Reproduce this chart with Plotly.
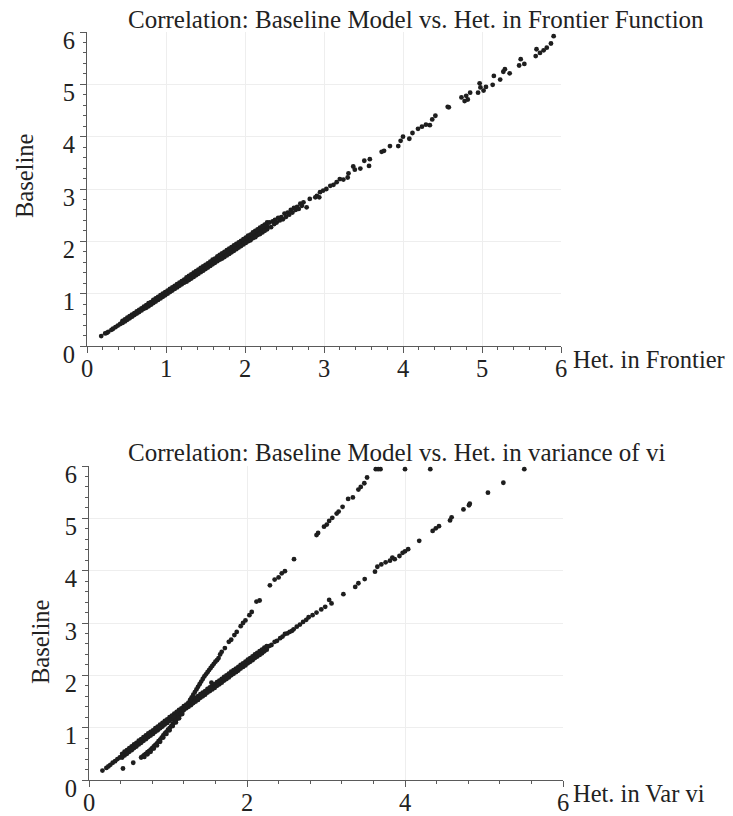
import plotly.graph_objects as go

W, H = 733, 816

# ---------------- TOP PANEL DATA (Het. in Frontier vs Baseline) ----------------
frontier_core_x = [0.18, 0.23, 0.25, 0.27, 0.31, 0.33,
                   0.36, 0.39, 0.42, 0.45, 0.48, 0.51, 0.54, 0.57, 0.60, 0.63,
                   0.66, 0.69, 0.72, 0.75, 0.78, 0.81, 0.84, 0.87, 0.90, 0.93,
                   0.96, 0.99, 1.02, 1.05, 1.08, 1.11, 1.14, 1.17, 1.20, 1.23,
                   1.26, 1.29, 1.32, 1.35, 1.38, 1.41, 1.44, 1.47, 1.50, 1.53,
                   1.56, 1.59, 1.62, 1.65, 1.68, 1.71, 1.74, 1.77, 1.80, 1.83,
                   1.86, 1.89, 1.92, 1.95, 1.98, 2.01, 2.04, 2.07, 2.10, 2.13,
                   2.16, 2.19, 2.22, 2.25, 2.28]
baseline_core_y = [0.19, 0.24, 0.25, 0.27, 0.31, 0.33,
                   0.36, 0.39, 0.42, 0.46, 0.49, 0.52, 0.55, 0.58, 0.61, 0.64,
                   0.67, 0.70, 0.73, 0.76, 0.79, 0.82, 0.85, 0.88, 0.91, 0.94,
                   0.97, 1.00, 1.03, 1.06, 1.09, 1.12, 1.15, 1.18, 1.21, 1.24,
                   1.27, 1.30, 1.33, 1.36, 1.39, 1.42, 1.45, 1.48, 1.51, 1.54,
                   1.57, 1.60, 1.63, 1.66, 1.69, 1.72, 1.75, 1.78, 1.81, 1.84,
                   1.87, 1.90, 1.93, 1.96, 1.99, 2.02, 2.05, 2.08, 2.11, 2.14,
                   2.17, 2.20, 2.23, 2.26, 2.29]

frontier_upper_x = [0.45, 0.51, 0.57, 0.63, 0.69, 0.75, 0.81, 0.87, 0.93, 0.99,
                    1.05, 1.11, 1.17, 1.23, 1.29, 1.35, 1.41, 1.47, 1.53, 1.59,
                    1.65, 1.71, 1.77, 1.83, 1.89, 1.95, 2.01, 2.07, 2.13, 2.19,
                    2.25]
baseline_upper_y = [0.48, 0.54, 0.60, 0.66, 0.72, 0.78, 0.84, 0.91, 0.97, 1.03,
                    1.09, 1.15, 1.21, 1.27, 1.34, 1.40, 1.46, 1.52, 1.58, 1.65,
                    1.71, 1.77, 1.83, 1.89, 1.95, 2.01, 2.07, 2.13, 2.20, 2.26,
                    2.32]

frontier_upper2_x = [0.48, 0.54, 0.60, 0.66, 0.72, 0.78, 0.84, 0.90, 0.96, 1.02,
                     1.08, 1.14, 1.20, 1.26, 1.32, 1.38, 1.44, 1.50, 1.56, 1.62,
                     1.68, 1.74, 1.80, 1.86, 1.92, 1.98, 2.04, 2.10, 2.16, 2.22,
                     2.28]
baseline_upper2_y = [0.51, 0.57, 0.63, 0.69, 0.75, 0.82, 0.88, 0.94, 1.00, 1.06,
                     1.12, 1.18, 1.24, 1.31, 1.37, 1.43, 1.49, 1.55, 1.61, 1.67,
                     1.74, 1.80, 1.86, 1.92, 1.98, 2.04, 2.11, 2.17, 2.23, 2.29,
                     2.36]

frontier_lower_x = [0.48, 0.54, 0.60, 0.66, 0.72, 0.78, 0.84, 0.90, 0.96, 1.02,
                    1.08, 1.14, 1.20, 1.26, 1.32, 1.38, 1.44, 1.50, 1.56, 1.62,
                    1.68, 1.74, 1.80, 1.86, 1.92, 1.98, 2.04, 2.10, 2.16, 2.22,
                    2.28]
baseline_lower_y = [0.47, 0.53, 0.59, 0.65, 0.71, 0.76, 0.82, 0.88, 0.94, 1.00,
                    1.06, 1.12, 1.18, 1.23, 1.29, 1.35, 1.41, 1.47, 1.53, 1.59,
                    1.65, 1.70, 1.76, 1.82, 1.88, 1.94, 2.00, 2.06, 2.12, 2.17,
                    2.23]

frontier_lower2_x = [0.45, 0.51, 0.57, 0.63, 0.69, 0.75, 0.81, 0.87, 0.93, 0.99,
                     1.05, 1.11, 1.17, 1.23, 1.29, 1.35, 1.41, 1.47, 1.53, 1.59,
                     1.65, 1.71, 1.77, 1.83, 1.89, 1.95, 2.01, 2.07, 2.13, 2.19,
                     2.25]
baseline_lower2_y = [0.44, 0.50, 0.56, 0.62, 0.68, 0.73, 0.79, 0.85, 0.91, 0.97,
                     1.03, 1.09, 1.15, 1.21, 1.26, 1.32, 1.38, 1.44, 1.50, 1.56,
                     1.62, 1.67, 1.73, 1.79, 1.85, 1.91, 1.97, 2.02, 2.08, 2.14,
                     2.20]

frontier_mid_x = [2.31, 2.33, 2.35, 2.37, 2.38, 2.40, 2.42, 2.44, 2.46, 2.48,
                  2.50, 2.52, 2.54, 2.56, 2.58, 2.60, 2.62, 2.64, 2.66, 2.68,
                  2.70, 2.72, 2.78]
baseline_mid_y = [2.36, 2.27, 2.38, 2.33, 2.41, 2.36, 2.45, 2.40, 2.46, 2.42,
                  2.53, 2.47, 2.55, 2.51, 2.60, 2.55, 2.64, 2.60, 2.66, 2.62,
                  2.72, 2.68, 2.65]

frontier_sparse_x = [2.74, 2.82, 2.89, 2.91, 2.94, 2.95, 2.99, 3.03, 3.08, 3.12,
                     3.16, 3.20, 3.245, 3.30, 3.31, 3.37, 3.39, 3.46, 3.51, 3.57,
                     3.58, 3.73, 3.76, 3.835, 3.94, 3.97, 4.00, 4.08, 4.12, 4.19,
                     4.24, 4.29, 4.34, 4.37, 4.41, 4.566, 4.58, 4.74, 4.78, 4.80,
                     4.82, 4.85, 4.95, 4.97, 4.98, 5.02, 5.05, 5.135, 5.15, 5.23,
                     5.27, 5.29, 5.35, 5.47, 5.49, 5.536, 5.68, 5.69, 5.734, 5.78,
                     5.82, 5.873, 5.907]
baseline_sparse_y = [2.745, 2.81, 2.84, 2.87, 2.84, 2.94, 2.97, 3.00, 3.06, 3.08,
                     3.13, 3.19, 3.18, 3.22, 3.30, 3.43, 3.37, 3.39, 3.54, 3.44,
                     3.57, 3.71, 3.73, 3.82, 3.82, 3.92, 4.00, 3.96, 4.07, 4.15,
                     4.19, 4.23, 4.22, 4.33, 4.40, 4.57, 4.56, 4.75, 4.68, 4.78,
                     4.71, 4.84, 4.84, 5.02, 4.94, 4.88, 4.95, 4.99, 5.16, 5.09,
                     5.24, 5.29, 5.21, 5.36, 5.48, 5.39, 5.54, 5.67, 5.60, 5.65,
                     5.70, 5.78, 5.92]

# ---------------- BOTTOM PANEL DATA (Het. in Var vi vs Baseline) ----------------
varvi_straight_x = [0.17, 0.22, 0.245, 0.27,
                    0.30, 0.33, 0.36, 0.39, 0.42, 0.45, 0.48, 0.51, 0.54, 0.57,
                    0.60, 0.63, 0.66, 0.69, 0.72, 0.75, 0.78, 0.81, 0.84, 0.87,
                    0.90, 0.93, 0.96, 0.99, 1.02, 1.05, 1.08, 1.11, 1.14, 1.17,
                    1.20, 1.23, 1.26, 1.29, 1.32, 1.35, 1.38, 1.41, 1.44, 1.47,
                    1.50, 1.53, 1.56, 1.59, 1.62, 1.65, 1.68, 1.71, 1.74, 1.77,
                    1.80, 1.83, 1.86, 1.89, 1.92, 1.95, 1.98, 2.01, 2.04, 2.07,
                    2.10, 2.13, 2.16, 2.19, 2.22, 2.25, 2.28]
baseline_straight_y = [0.18, 0.23, 0.26, 0.29,
                       0.33, 0.36, 0.40, 0.43, 0.47, 0.50, 0.54, 0.57, 0.61, 0.64,
                       0.68, 0.71, 0.75, 0.78, 0.82, 0.85, 0.88, 0.92, 0.95, 0.99,
                       1.02, 1.06, 1.09, 1.13, 1.16, 1.20, 1.23, 1.27, 1.30, 1.33,
                       1.37, 1.40, 1.44, 1.47, 1.50, 1.54, 1.57, 1.60, 1.63, 1.67,
                       1.70, 1.73, 1.77, 1.80, 1.83, 1.87, 1.90, 1.93, 1.96, 2.00,
                       2.03, 2.06, 2.10, 2.13, 2.16, 2.20, 2.23, 2.26, 2.29, 2.33,
                       2.36, 2.39, 2.43, 2.46, 2.49, 2.53, 2.56]

varvi_straight_up_x = [0.42, 0.48, 0.54, 0.60, 0.66, 0.72, 0.78, 0.84, 0.90, 0.96,
                       1.02, 1.08, 1.14, 1.20, 1.26, 1.32, 1.38, 1.44, 1.50, 1.56,
                       1.62, 1.68, 1.74, 1.80, 1.86, 1.92, 1.98, 2.04, 2.10, 2.16,
                       2.22]
baseline_straight_up_y = [0.50, 0.57, 0.64, 0.71, 0.78, 0.85, 0.92, 0.99, 1.06, 1.13,
                          1.20, 1.27, 1.34, 1.41, 1.47, 1.54, 1.60, 1.67, 1.74, 1.80,
                          1.87, 1.93, 2.00, 2.07, 2.13, 2.20, 2.26, 2.33, 2.40, 2.46,
                          2.53]

varvi_straight_up2_x = [0.45, 0.51, 0.57, 0.63, 0.69, 0.75, 0.81, 0.87, 0.93, 0.99,
                        1.05, 1.11, 1.17, 1.23, 1.29, 1.35, 1.41, 1.47, 1.53, 1.59,
                        1.65, 1.71, 1.77, 1.83, 1.89, 1.95, 2.01, 2.07, 2.13, 2.19,
                        2.25]
baseline_straight_up2_y = [0.54, 0.61, 0.68, 0.75, 0.82, 0.89, 0.95, 1.02, 1.09, 1.16,
                           1.23, 1.30, 1.37, 1.44, 1.50, 1.57, 1.64, 1.70, 1.77, 1.83,
                           1.90, 1.97, 2.03, 2.10, 2.16, 2.23, 2.30, 2.36, 2.43, 2.49,
                           2.56]

varvi_straight_lo_x = [0.45, 0.51, 0.57, 0.63, 0.69, 0.75, 0.81, 0.87, 0.93, 0.99,
                       1.05, 1.11, 1.17, 1.23, 1.29, 1.35, 1.41, 1.47, 1.53, 1.59,
                       1.65, 1.71, 1.77, 1.83, 1.89, 1.95, 2.01, 2.07, 2.13, 2.19,
                       2.25]
baseline_straight_lo_y = [0.47, 0.54, 0.61, 0.68, 0.75, 0.82, 0.88, 0.95, 1.02, 1.09,
                          1.16, 1.23, 1.30, 1.37, 1.43, 1.50, 1.57, 1.63, 1.70, 1.76,
                          1.83, 1.90, 1.96, 2.03, 2.09, 2.16, 2.23, 2.29, 2.36, 2.42,
                          2.49]

varvi_straight_lo2_x = [0.42, 0.48, 0.54, 0.60, 0.66, 0.72, 0.78, 0.84, 0.90, 0.96,
                        1.02, 1.08, 1.14, 1.20, 1.26, 1.32, 1.38, 1.44, 1.50, 1.56,
                        1.62, 1.68, 1.74, 1.80, 1.86, 1.92, 1.98, 2.04, 2.10, 2.16,
                        2.22]
baseline_straight_lo2_y = [0.43, 0.50, 0.57, 0.64, 0.71, 0.78, 0.85, 0.92, 0.99, 1.06,
                           1.13, 1.20, 1.27, 1.34, 1.40, 1.47, 1.53, 1.60, 1.67, 1.73,
                           1.80, 1.86, 1.93, 2.00, 2.06, 2.13, 2.19, 2.26, 2.33, 2.39,
                           2.46]

varvi_straight_sparse_x = [2.31, 2.35, 2.38, 2.42, 2.45, 2.48, 2.51, 2.54, 2.57, 2.59,
                           2.63, 2.67, 2.71, 2.75, 2.78, 2.83, 2.88, 2.94, 2.99, 3.04,
                           3.07, 3.22, 3.37, 3.41, 3.49, 3.62, 3.65, 3.70, 3.755, 3.81,
                           3.84, 3.87, 3.93, 3.97, 4.00, 4.04, 4.18, 4.35, 4.39, 4.43,
                           4.57, 4.59, 4.74, 4.81, 4.82, 5.05, 5.245, 5.51, 1.55]
baseline_straight_sparse_y = [2.58, 2.64, 2.66, 2.71, 2.74, 2.79, 2.80, 2.83, 2.85, 2.88,
                              2.93, 2.97, 3.02, 3.06, 3.11, 3.15, 3.20, 3.26, 3.31, 3.44,
                              3.375, 3.55, 3.69, 3.76, 3.84, 3.98, 4.075, 4.12, 4.16, 4.19,
                              4.25, 4.22, 4.28, 4.34, 4.37, 4.41, 4.57, 4.76, 4.81, 4.85,
                              4.96, 5.02, 5.17, 5.25, 5.28, 5.49, 5.68, 5.94, 1.86]

varvi_curved_x = [0.43, 0.56,
                  0.66, 0.68, 0.70, 0.72, 0.74, 0.76, 0.78, 0.80, 0.82, 0.84,
                  0.86, 0.88, 0.90, 0.92, 0.94, 0.96, 0.98, 1.00, 1.02, 1.04,
                  1.06, 1.08, 1.10, 1.12, 1.14, 1.16, 1.18, 1.20, 1.22, 1.24,
                  1.26, 1.28, 1.30, 1.32, 1.34, 1.36, 1.38, 1.40, 1.42, 1.44,
                  1.46, 1.48, 1.50, 1.52, 1.54, 1.56, 1.58, 1.60]
baseline_curved_y = [0.22, 0.33,
                     0.43, 0.45, 0.48, 0.50, 0.53, 0.55, 0.58, 0.61, 0.64, 0.67,
                     0.70, 0.74, 0.77, 0.81, 0.85, 0.89, 0.92, 0.96, 0.99, 1.03,
                     1.07, 1.10, 1.14, 1.18, 1.22, 1.26, 1.30, 1.34, 1.39, 1.43,
                     1.48, 1.53, 1.58, 1.63, 1.68, 1.73, 1.78, 1.83, 1.88, 1.93,
                     1.98, 2.02, 2.06, 2.10, 2.14, 2.18, 2.22, 2.26]

varvi_curved2_x = [0.70, 0.74, 0.78, 0.82, 0.86, 0.90, 0.94, 0.98, 1.02, 1.06,
                   1.10, 1.14, 1.18]
baseline_curved2_y = [0.44, 0.49, 0.54, 0.60, 0.66, 0.73, 0.81, 0.88, 0.95, 1.03,
                      1.10, 1.18, 1.26]

varvi_curved_sparse_x = [1.62, 1.64, 1.66, 1.68, 1.72, 1.77, 1.80, 1.84, 1.87, 1.92,
                         1.95, 1.98, 2.03, 2.06, 2.12, 2.16, 2.29, 2.35, 2.40, 2.44,
                         2.48, 2.595, 2.88, 2.90, 2.975, 3.01, 3.04, 3.08, 3.135, 3.16,
                         3.21, 3.28, 3.34, 3.41, 3.44, 3.485, 3.52, 3.63, 3.66, 3.69,
                         4.00, 4.32]
baseline_curved_sparse_y = [2.29, 2.33, 2.40, 2.45, 2.52, 2.64, 2.68, 2.77, 2.83, 2.94,
                            3.00, 3.05, 3.15, 3.21, 3.41, 3.43, 3.72, 3.83, 3.87, 3.95,
                            3.99, 4.22, 4.68, 4.72, 4.84, 4.88, 4.95, 5.01, 5.09, 5.13,
                            5.22, 5.37, 5.40, 5.55, 5.60, 5.67, 5.78, 5.94, 5.94, 5.94,
                            5.94, 5.94]

# ---------------- TEXT ----------------
title_top = "Correlation: Baseline Model vs. Het. in Frontier Function"
title_bottom = "Correlation: Baseline Model vs. Het. in variance of vi"
xlabel_top = "Het. in Frontier"
xlabel_bottom = "Het. in Var vi"
ylabel = "Baseline"

FONT = "Liberation Serif, Times New Roman, serif"
DOT = "#1e1e1e"
AX = "#5a5a5a"
GRID = "#eeeeee"

def px_x(p):
    return p / W

def px_y(p):
    return 1 - p / H

fig = go.Figure()

def add_points(xs, ys, xa, ya):
    fig.add_trace(go.Scatter(x=xs, y=ys, mode="markers", xaxis=xa, yaxis=ya,
                             marker=dict(size=4.8, color=DOT, line=dict(width=0)),
                             hoverinfo="skip", showlegend=False))

for xs, ys in [(frontier_core_x, baseline_core_y), (frontier_upper_x, baseline_upper_y),
               (frontier_upper2_x, baseline_upper2_y),
               (frontier_lower_x, baseline_lower_y), (frontier_lower2_x, baseline_lower2_y),
               (frontier_mid_x, baseline_mid_y),
               (frontier_sparse_x, baseline_sparse_y)]:
    add_points(xs, ys, "x", "y")

for xs, ys in [(varvi_straight_x, baseline_straight_y),
               (varvi_straight_up_x, baseline_straight_up_y),
               (varvi_straight_up2_x, baseline_straight_up2_y),
               (varvi_straight_lo_x, baseline_straight_lo_y),
               (varvi_straight_lo2_x, baseline_straight_lo2_y),
               (varvi_straight_sparse_x, baseline_straight_sparse_y),
               (varvi_curved_x, baseline_curved_y), (varvi_curved2_x, baseline_curved2_y),
               (varvi_curved_sparse_x, baseline_curved_sparse_y)]:
    add_points(xs, ys, "x2", "y2")

def xax(domain, anchor, dtick, minor_dtick):
    return dict(domain=domain, anchor=anchor, range=[0, 6], dtick=dtick, tick0=0,
                automargin=False,
                ticks="outside", ticklen=6, tickwidth=1, tickcolor=AX,
                showline=True, linecolor=AX, linewidth=1,
                showgrid=True, gridcolor=GRID, gridwidth=1, zeroline=False,
                tickfont=dict(family=FONT, size=24.5, color="#222"),
                ticklabelstandoff=-5,
                minor=dict(dtick=minor_dtick, tick0=0, ticks="outside", ticklen=3,
                           tickcolor=AX, showgrid=False))

def yax(domain, anchor):
    return dict(domain=domain, anchor=anchor, range=[0, 6], dtick=1, tick0=0,
                automargin=False,
                ticks="outside", ticklen=6, tickwidth=1, tickcolor=AX,
                showline=True, linecolor=AX, linewidth=1,
                showgrid=True, gridcolor=GRID, gridwidth=1, zeroline=False,
                tickfont=dict(family=FONT, size=24.5, color="#222"),
                ticklabelshift=8,
                minor=dict(dtick=0.2, tick0=0, ticks="outside", ticklen=3,
                           tickcolor=AX, showgrid=False))

fig.update_layout(
    width=W, height=H, autosize=False,
    margin=dict(l=0, r=0, t=0, b=0, autoexpand=False),
    paper_bgcolor="white", plot_bgcolor="white",
    xaxis=xax([px_x(87), px_x(561)], "y", 1, 0.2),
    yaxis=yax([px_y(346), px_y(32)], "x"),
    xaxis2=xax([px_x(89), px_x(563)], "y2", 2, 0.4),
    yaxis2=yax([px_y(780), px_y(466)], "x2"),
    showlegend=False,
)

title_font = dict(family=FONT, size=25, color="#222")
label_font = dict(family=FONT, size=24.5, color="#222")
anns = [
    dict(text=title_top, x=px_x(126), y=px_y(19), xanchor="left", yanchor="middle", font=title_font),
    dict(text=title_bottom, x=px_x(126), y=px_y(452), xanchor="left", yanchor="middle", font=title_font),
    dict(text=xlabel_top, x=px_x(571), y=px_y(359), xanchor="left", yanchor="middle", font=label_font),
    dict(text=xlabel_bottom, x=px_x(571), y=px_y(793), xanchor="left", yanchor="middle", font=label_font),
    dict(text=ylabel, x=px_x(24), y=px_y(176), xanchor="center", yanchor="middle", textangle=-90, font=label_font),
    dict(text=ylabel, x=px_x(40), y=px_y(642), xanchor="center", yanchor="middle", textangle=-90, font=label_font),
]
for a in anns:
    a.update(xref="paper", yref="paper", showarrow=False)
fig.update_layout(annotations=anns)

fig.write_html("out.html", config={"displayModeBar": False},
               post_script="document.body.style.margin='0';document.body.style.overflow='hidden';")
